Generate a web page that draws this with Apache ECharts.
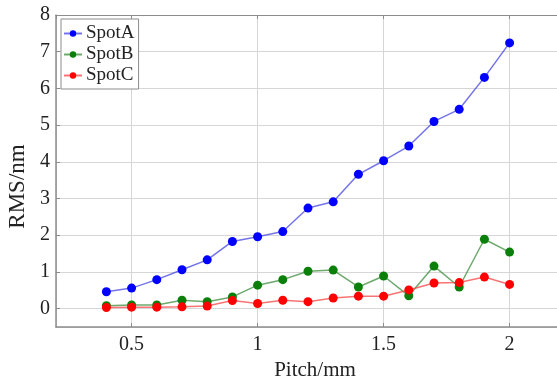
<!DOCTYPE html>
<html>
<head>
<meta charset="utf-8">
<script src="https://cdn.jsdelivr.net/npm/echarts@6/dist/echarts.min.js"></script>
<style>
html,body{margin:0;padding:0;background:#fff;}
#c{width:557px;height:378px;}
</style>
</head>
<body>
<div id="c"></div>
<script>
const pitch = [0.4,0.5,0.6,0.7,0.8,0.9,1.0,1.1,1.2,1.3,1.4,1.5,1.6,1.7,1.8,1.9,2.0];
const spotA = [0.46,0.56,0.79,1.06,1.33,1.83,1.96,2.10,2.74,2.91,3.66,4.03,4.43,5.10,5.43,6.30,7.24];
const spotB = [0.08,0.10,0.10,0.23,0.19,0.32,0.64,0.79,1.02,1.05,0.59,0.89,0.35,1.16,0.59,1.89,1.54];
const spotC = [0.03,0.04,0.04,0.05,0.07,0.22,0.14,0.23,0.19,0.29,0.34,0.34,0.51,0.70,0.71,0.86,0.66];
const seriesNames = ['SpotA','SpotB','SpotC'];

const FONT = "'Liberation Serif', 'Times New Roman', serif";
const pairs = arr => pitch.map((x,i)=>[x, arr[i]]);

function mkSeries(name, data, dot, line){
  return {
    name: name, type: 'line', data: pairs(data),
    xAxisIndex: 0, yAxisIndex: 0,
    symbol: 'circle', symbolSize: 9, showSymbol: true,
    itemStyle: {color: dot},
    lineStyle: {color: line, width: 1.5},
    emphasis: {disabled: true},
    animation: false
  };
}

const axisGray = '#8c8c8c';
const chart = echarts.init(document.getElementById('c'), null, {renderer:'canvas'});
chart.setOption({
  backgroundColor: '#fff',
  animation: false,
  grid: {left: 56, top: 15, right: -3, bottom: 51, containLabel: false, outerBoundsMode: 'none', show: false},
  legend: {
    orient: 'vertical', left: 61, top: 19,
    data: seriesNames,
    backgroundColor: '#fff', borderColor: axisGray, borderWidth: 1,
    padding: [5, 4, 4, 2], itemGap: 2, itemWidth: 18, itemHeight: 8,
    textStyle: {fontFamily: FONT, fontSize: 19, color: '#222', padding: [0,0,0,-1]}
  },
  xAxis: [{
    type: 'value', min: 0.2, max: 2.2, splitNumber: 4, position: 'bottom',
    name: 'Pitch/mm', nameLocation: 'middle', nameGap: 27,
    nameTextStyle: {fontFamily: FONT, fontSize: 21, color: '#222', padding: [0,0,0,14]},
    axisLine: {show: true, onZero: false, lineStyle: {color: axisGray, width: 1.5}},
    axisTick: {show: true, inside: true, length: 4, lineStyle: {color: axisGray}},
    axisLabel: {fontFamily: FONT, fontSize: 20, color: '#222', margin: 8, showMinLabel: false, showMaxLabel: false},
    splitLine: {show: true, lineStyle: {color: '#d6d6d6', width: 1}}
  }, {
    type: 'value', min: 0.2, max: 2.2, splitNumber: 4, position: 'top',
    axisLine: {show: true, onZero: false, lineStyle: {color: axisGray, width: 1.2}},
    axisTick: {show: true, inside: true, length: 4, lineStyle: {color: axisGray}},
    axisLabel: {show: false},
    splitLine: {show: false}
  }],
  yAxis: {
    type: 'value', min: -0.5, max: 8, splitNumber: 8,
    name: 'RMS/nm', nameLocation: 'middle', nameGap: 27, nameRotate: 90,
    nameTextStyle: {fontFamily: FONT, fontSize: 23, color: '#222', padding: [0,31,0,0]},
    axisLine: {show: true, onZero: false, lineStyle: {color: axisGray, width: 1.5}},
    axisTick: {show: true, inside: true, length: 4, lineStyle: {color: axisGray}},
    axisLabel: {fontFamily: FONT, fontSize: 20, color: '#222', margin: 6, showMinLabel: false},
    splitLine: {show: true, lineStyle: {color: '#d6d6d6', width: 1}}
  },
  series: [
    mkSeries(seriesNames[0], spotA, '#0000ff', 'rgba(70,70,225,0.75)'),
    mkSeries(seriesNames[1], spotB, '#0a800a', 'rgba(60,140,60,0.75)'),
    mkSeries(seriesNames[2], spotC, '#ff0000', 'rgba(245,70,70,0.75)')
  ]
});
</script>
</body>
</html>
